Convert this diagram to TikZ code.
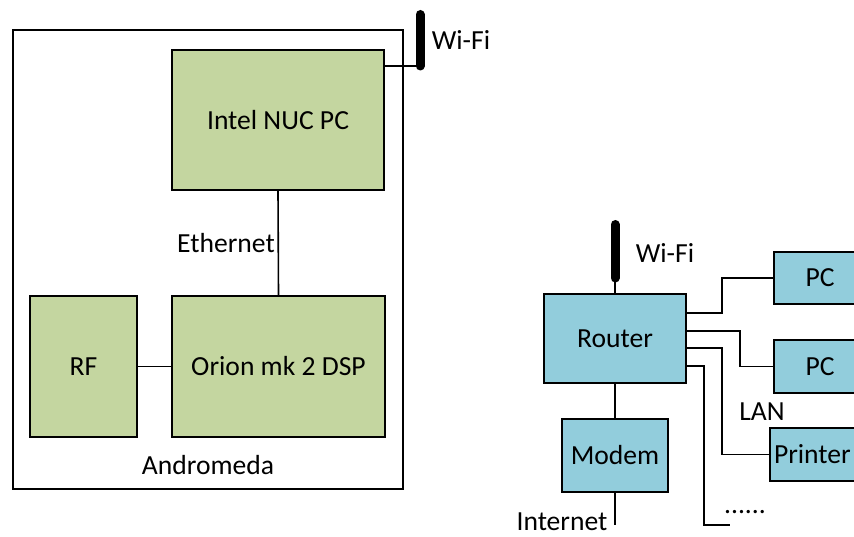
\documentclass[tikz,border=0pt]{standalone}
\usepackage{fontspec}
\setmainfont{Carlito}
\definecolor{boxgreen}{HTML}{C4D6A0}
\definecolor{boxblue}{HTML}{92CDDC}
\begin{document}
\begin{tikzpicture}[x=1pt,y=-1pt,
  every node/.style={font=\fontsize{27.6}{33}\selectfont},
  gbox/.style={draw,line width=1.8pt,fill=boxgreen,inner sep=0pt},
  bbox/.style={draw,line width=1.8pt,fill=boxblue,inner sep=0pt},
  wire/.style={line width=1.6pt},
  antenna/.style={line width=9pt,line cap=round},
  lbl/.style={inner sep=0pt}]
\useasboundingbox[fill=white] (0,0) rectangle (854,537);
\clip (0,0) rectangle (854,537);
% Andromeda
\node[draw,line width=1.8pt,minimum width=390pt,minimum height=459pt,inner sep=0pt] (andro) at (208,259.5) {};
\node[lbl] (androlbl) at (208,465) {Andromeda};
\node[gbox,minimum width=212pt,minimum height=140pt] (nuc) at (278,120) {Intel NUC PC};
\node[gbox,minimum width=213pt,minimum height=141pt] (orion) at (278.5,366.5) {Orion mk 2 DSP};
\node[gbox,minimum width=107pt,minimum height=141pt] (rf) at (83.5,366.5) {RF};
\draw[wire] (nuc.south) -- (orion.north);
\node[lbl] (eth) at (226,243) {Ethernet};
\draw[wire] (rf.east) -- (orion.west);
\coordinate (a1top) at (420,14.5);
\coordinate (a1bot) at (420,66);
\draw[antenna] (a1top) -- (a1bot);
\draw[wire] (nuc.east |- a1bot) -- (a1bot);
\node[lbl] (wifi1) at (461,40) {Wi-Fi};
% Network side
\node[bbox,minimum width=142pt,minimum height=89pt] (router) at (615,338.5) {Router};
\node[bbox,minimum width=106pt,minimum height=73pt] (modem) at (615,455.5) {Modem};
\node[bbox,minimum width=92pt,minimum height=52pt] (pc1) at (820,278) {PC};
\node[bbox,minimum width=92pt,minimum height=53pt] (pc2) at (820,366.5) {PC};
\node[bbox,minimum width=92pt,minimum height=53pt,text width=92pt,align=left,inner xsep=4pt] (printer) at (820,454.5) {Printer};
\coordinate (a2top) at (615,224.5);
\coordinate (a2bot) at (615,278);
\draw[antenna] (a2top) -- (a2bot);
\draw[wire] (a2bot) -- (router.north);
\node[lbl] (wifi2) at (665,253) {Wi-Fi};
\draw[wire] (router.south) -- (modem.north);
\coordinate (inet) at (615,525);
\draw[wire] (modem.south) -- (inet);
\node[lbl] (inetlbl) at (562,522) {Internet};
\coordinate (more) at (730,525);
\draw[wire] ([yshift=25.5pt]router.east) -- ++(35,0) |- (pc1.west);
\draw[wire] ([yshift=7.5pt]router.east) -- ++(53,0) |- (pc2.west);
\draw[wire] ([yshift=-9.5pt]router.east) -- ++(35,0) |- (printer.west);
\draw[wire] ([yshift=-27.5pt]router.east) -- ++(17,0) |- (more);
\node[lbl] (dots) at (745,512) {......};
\node[lbl] (lan) at (762,412) {LAN};
\end{tikzpicture}
\end{document}
